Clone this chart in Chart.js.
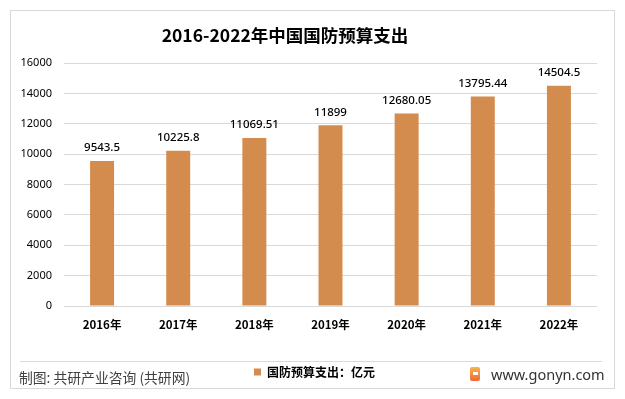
<!DOCTYPE html>
<html>
<head>
<meta charset="utf-8">
<script src="https://cdn.jsdelivr.net/npm/chart.js@4"></script>
<style>
  html, body { margin: 0; padding: 0; background: #ffffff; }
  #wrap { position: relative; width: 625px; height: 399px; overflow: hidden; }
  #frame { position: absolute; left: 10px; top: 10px; width: 605px; height: 379px; border: 1px solid #D9D9D9; box-sizing: border-box; }
  #sep { position: absolute; left: 20px; top: 361px; width: 582px; height: 1px; background: #D9D9D9; }
  #title { position: absolute; left: 0; top: 23px; width: 570px; text-align: center; font-family: "Noto Sans CJK SC", sans-serif; font-weight: bold; font-size: 17.5px; line-height: 24px; color: #000; white-space: nowrap; }
  #src { position: absolute; left: 19px; top: 367px; font-family: "Noto Sans CJK SC", sans-serif; font-size: 13.8px; line-height: 20px; color: #404040; white-space: nowrap; }
  #site { position: absolute; left: 491px; top: 364px; font-family: "Noto Sans", "Open Sans", sans-serif; font-size: 14.5px; line-height: 20px; color: #333; white-space: nowrap; }
  #logo { position: absolute; left: 470px; top: 367px; width: 10px; height: 14px; border-radius: 2px; background: linear-gradient(180deg, #F9B24E, #EE6A38); }
  #logo:after { content: ""; position: absolute; left: 3px; top: 5px; width: 5px; height: 3px; background: #fff; }
  canvas { position: absolute; left: 0; top: 0; }
</style>
</head>
<body>
<div id="wrap">
  <div id="frame"></div>
  <div id="sep"></div>
  <canvas id="c" width="625" height="399"></canvas>
  <div id="title">2016-2022年中国国防预算支出</div>
  <div id="src">制图: 共研产业咨询 (共研网)</div>
  <div id="logo"></div>
  <div id="site">www.gonyn.com</div>
</div>
<script>
const categories = ['2016年', '2017年', '2018年', '2019年', '2020年', '2021年', '2022年'];
const seriesName = '国防预算支出：亿元';
const values = [9543.5, 10225.8, 11069.51, 11899, 12680.05, 13795.44, 14504.5];
const valueLabels = ['9543.5', '10225.8', '11069.51', '11899', '12680.05', '13795.44', '14504.5'];
const yMin = 0;
const yMax = 16000;
const yStep = 2000;

const barColor = '#D48C4E';

const valueLabelPlugin = {
  id: 'valueLabels',
  afterDatasetsDraw(chart) {
    const ctx = chart.ctx;
    const meta = chart.getDatasetMeta(0);
    ctx.save();
    ctx.font = '500 11.5px "Noto Sans", "Noto Sans CJK SC", sans-serif';
    ctx.fillStyle = '#000';
    ctx.textAlign = 'center';
    ctx.textBaseline = 'middle';
    meta.data.forEach((el, i) => {
      ctx.fillText(valueLabels[i], el.x, el.y - 13);
    });
    ctx.restore();
  }
};

new Chart(document.getElementById('c'), {
  type: 'bar',
  data: {
    labels: categories,
    datasets: [{
      label: seriesName,
      data: values,
      backgroundColor: barColor,
      borderWidth: 0,
      barPercentage: 0.315,
      categoryPercentage: 1.0,
      yAxisID: 'y'
    }]
  },
  options: {
    responsive: false,
    animation: false,
    devicePixelRatio: 1,
    layout: { padding: { left: 10, right: 6, top: 63, bottom: 11 } },
    plugins: {
      title: { display: false },
      tooltip: { enabled: false },
      legend: {
        display: true,
        position: 'bottom',
        labels: {
          boxWidth: 7,
          boxHeight: 7,
          padding: 10,
          color: '#000',
          font: { family: '"Noto Sans CJK SC", sans-serif', size: 12, weight: 'bold' }
        }
      }
    },
    scales: {
      x: {
        grid: { display: false, drawTicks: false },
        border: { display: false },
        ticks: {
          color: '#000',
          padding: 12,
          font: { family: '"Noto Sans CJK SC", sans-serif', size: 11.5, weight: 'bold' }
        },
        afterFit(scale) { scale.height = 50; }
      },
      y: {
        position: 'left',
        min: yMin,
        max: yMax,
        ticks: {
          stepSize: yStep,
          color: '#000',
          padding: 12,
          font: { family: '"Noto Sans", sans-serif', size: 11 },
          callback: (value) => String(value)
        },
        grid: { color: '#D9D9D9', lineWidth: 1, drawTicks: false },
        border: { display: false },
        afterFit(scale) { scale.width = 54; }
      },
      yRight: {
        position: 'right',
        display: true,
        min: yMin,
        max: yMax,
        ticks: { display: false },
        grid: { display: false, drawTicks: false },
        border: { display: false },
        afterFit(scale) { scale.width = 22; }
      }
    }
  },
  plugins: [valueLabelPlugin]
});
</script>
</body>
</html>
